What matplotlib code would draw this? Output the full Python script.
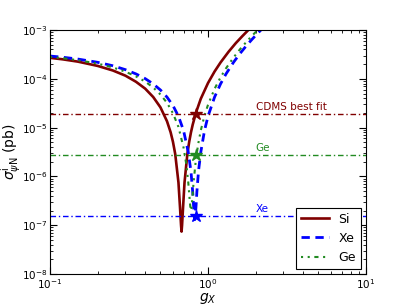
import numpy as np
import matplotlib; matplotlib.use("Agg")
import matplotlib.pyplot as plt

# ---- data ----
g_si = [0.1, 0.12, 0.15, 0.2, 0.25, 0.3, 0.35, 0.4, 0.45, 0.5, 0.55, 0.58, 0.6, 0.62,
        0.65, 0.665, 0.675, 0.68, 0.685, 0.695, 0.71, 0.74, 0.76, 0.78, 0.8, 0.84,
        0.9, 1.0, 1.1, 1.2, 1.35, 1.5, 1.65, 1.8, 1.9]
sig_si = [2.69e-4, 2.51e-4, 2.25e-4, 1.84e-4, 1.48e-4, 1.16e-4, 8.7e-5, 6.3e-5, 4.23e-5,
          2.6e-5, 1.35e-5, 8.0e-6, 5.1e-6, 2.88e-6, 7.5e-7, 2.3e-7, 1.0e-7, 7.4e-8,
          1.0e-7, 2.3e-7, 7.5e-7, 2.88e-6, 5.1e-6, 8.0e-6, 1.15e-5, 2.05e-5, 3.9e-5,
          8.2e-5, 1.41e-4, 2.16e-4, 3.59e-4, 5.4e-4, 7.5e-4, 1.0e-3, 1.18e-3]

g_xe = [0.1, 0.12, 0.15, 0.2, 0.25, 0.3, 0.35, 0.4, 0.45, 0.5, 0.55, 0.6, 0.65, 0.7,
        0.75, 0.78, 0.8, 0.81, 0.82, 0.825, 0.83, 0.84, 0.85, 0.87, 0.9, 0.95, 1.0,
        1.1, 1.2, 1.3, 1.45, 1.6, 1.75, 1.9, 2.05, 2.2]
sig_xe = [2.93e-4, 2.77e-4, 2.54e-4, 2.18e-4, 1.85e-4, 1.54e-4, 1.26e-4, 1.01e-4, 7.85e-5,
          5.9e-5, 4.22e-5, 2.83e-5, 1.71e-5, 8.7e-6, 3.14e-6, 1.26e-6, 4.8e-7, 2.5e-7,
          1.45e-7, 1.3e-7, 1.45e-7, 2.5e-7, 4.8e-7, 1.26e-6, 3.14e-6, 8.7e-6, 1.71e-5,
          4.22e-5, 7.85e-5, 1.26e-4, 2.18e-4, 3.35e-4, 4.78e-4, 6.45e-4, 8.38e-4, 1.06e-3]

g_ge = [0.1, 0.12, 0.15, 0.2, 0.25, 0.3, 0.35, 0.4, 0.45, 0.5, 0.55, 0.6, 0.65, 0.7,
        0.73, 0.75, 0.765, 0.775, 0.78, 0.785, 0.795, 0.81, 0.84, 0.87, 0.9, 0.95,
        1.0, 1.1, 1.2, 1.3, 1.45, 1.6, 1.75, 1.9, 2.05, 2.2]
sig_ge = [2.81e-4, 2.65e-4, 2.41e-4, 2.05e-4, 1.71e-4, 1.40e-4, 1.12e-4, 8.8e-5, 6.62e-5,
          4.77e-5, 3.22e-5, 1.97e-5, 1.03e-5, 3.9e-6, 1.7e-6, 7.5e-7, 3.4e-7, 2.15e-7,
          2.0e-7, 2.15e-7, 3.4e-7, 7.5e-7, 2.4e-6, 4.93e-6, 8.76e-6, 1.76e-5, 2.94e-5,
          6.23e-5, 1.07e-4, 1.64e-4, 2.73e-4, 4.09e-4, 5.72e-4, 7.63e-4, 9.81e-4, 1.23e-3]

# horizontal reference levels and best-fit stars
level_names = ["CDMS best fit", "Ge", "Xe"]
level_vals = [1.9e-5, 2.75e-6, 1.55e-7]
star_g = [0.84, 0.84, 0.836]
star_sig = [1.9e-5, 2.75e-6, 1.55e-7]

RED, BLUE, GREEN = "#800000", "#0000ff", "#228b22"
level_cols = [RED, GREEN, BLUE]

fig = plt.figure(figsize=(4.07, 3.05), dpi=100)
ax = fig.add_axes([0.1229, 0.1016, 0.7764, 0.8000])

ax.plot(g_si, sig_si, color=RED, lw=1.9, ls="-", label="Si")
ax.plot(g_xe, sig_xe, color=BLUE, lw=2.0, ls=(0, (3, 2)), label="Xe")
ax.plot(g_ge, sig_ge, color=GREEN, lw=1.5, ls=(0, (1, 2.2, 1, 2.2, 2, 2.2)), label="Ge")

for name, val, col in zip(level_names, level_vals, level_cols):
    ax.axhline(val, color=col, lw=1.0, ls=(0, (4, 2, 1, 2)))
    ax.text(2.0, val * 1.1, name, color=col, fontsize=7.5, va="bottom")

for gx, sy, col in zip(star_g, star_sig, level_cols):
    ax.plot(gx, sy, marker="*", ms=9, color=col, mec=col)

ax.set_xscale("log"); ax.set_yscale("log")
ax.set_xlim(0.1, 10); ax.set_ylim(1e-8, 1e-3)
ax.tick_params(which="both", direction="in", top=True, right=True, labelsize=7.5, pad=2)
ax.tick_params(which="major", length=5)
ax.tick_params(which="minor", length=2.5)
ax.set_xlabel("$g_X$", fontsize=10)
ax.set_ylabel(r"$\sigma^{\rm i}_{\psi{\rm N}}$ (pb)", fontsize=10)
ax.xaxis.set_label_coords(0.5, -0.068)
ax.yaxis.set_label_coords(-0.085, 0.5)

leg = ax.legend(loc="lower right", fontsize=9, fancybox=False, framealpha=1,
                edgecolor="black", handlelength=2.2, borderaxespad=0.4)
leg.get_frame().set_linewidth(0.8)

fig.savefig("out.png", dpi=100)
